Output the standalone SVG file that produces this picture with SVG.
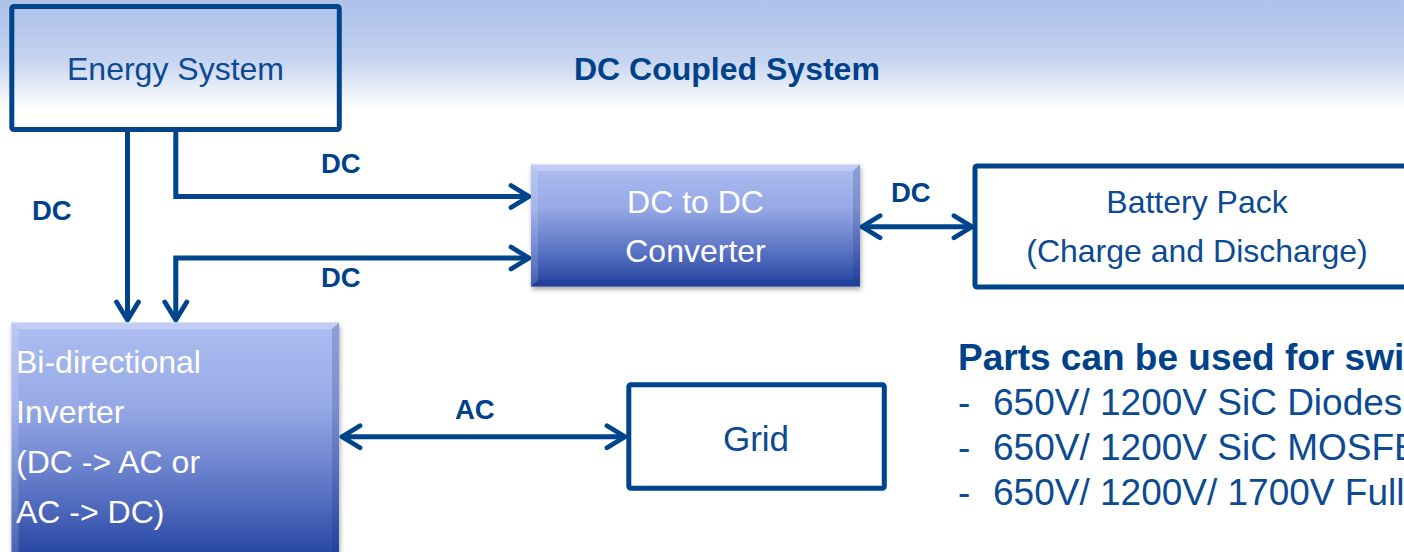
<svg xmlns="http://www.w3.org/2000/svg" width="1404" height="552" viewBox="0 0 1404 552">
<defs>
  <linearGradient id="bg" x1="0" y1="0" x2="0" y2="1">
    <stop offset="0" stop-color="#afc2ea"/>
    <stop offset="0.2" stop-color="#b2c5eb"/>
    <stop offset="0.55" stop-color="#c6d4f0"/>
    <stop offset="0.85" stop-color="#eef2fb"/>
    <stop offset="1" stop-color="#ffffff"/>
  </linearGradient>
  <linearGradient id="boxgrad" x1="0" y1="0" x2="0" y2="1">
    <stop offset="0" stop-color="#adbef1"/>
    <stop offset="0.35" stop-color="#97a9e6"/>
    <stop offset="0.7" stop-color="#5b74c4"/>
    <stop offset="1" stop-color="#22429f"/>
  </linearGradient>
  <filter id="shadow" x="-10%" y="-10%" width="120%" height="130%">
    <feDropShadow dx="1" dy="3" stdDeviation="2.5" flood-color="#000000" flood-opacity="0.35"/>
  </filter>
  <marker id="arr" viewBox="-22 -14 26 28" refX="0" refY="0" markerWidth="26" markerHeight="28" markerUnits="userSpaceOnUse" orient="auto-start-reverse">
    <path d="M-18,-11 L0,0 L-18,11" fill="none" stroke="#00458c" stroke-width="4.8" stroke-linecap="round" stroke-linejoin="round"/>
  </marker>
  <style>
    .box{fill:none;stroke:#00458c;stroke-width:5;stroke-linejoin:round}
    .btxt{font-family:"Liberation Sans",Arial,sans-serif;font-size:32px;fill:#0c4a92}
    .gtxt{font-family:"Liberation Sans",Arial,sans-serif;font-size:35px;fill:#0c4a92}
    .wtxt{font-family:"Liberation Sans",Arial,sans-serif;font-size:32px;fill:#ffffff}
    .lbl{font-family:"Liberation Sans",Arial,sans-serif;font-size:27.5px;font-weight:bold;fill:#00428a}
    .conn{fill:none;stroke:#00458c;stroke-width:5}
    .side{font-family:"Liberation Sans",Arial,sans-serif;font-size:37px;fill:#0c4a92}
  </style>
</defs>

<rect x="0" y="0" width="1404" height="552" fill="#ffffff"/>
<rect x="0" y="0" width="1404" height="110" fill="url(#bg)"/>

<text x="574" y="80" font-family="'Liberation Sans',Arial,sans-serif" font-size="32" font-weight="bold" fill="#00428a">DC Coupled System</text>

<g id="connectors">
  <line class="conn" x1="127.5" y1="131" x2="127.5" y2="320" marker-end="url(#arr)"/>
  <polyline class="conn" points="175.8,131 175.8,196.5 529,196.5" marker-end="url(#arr)"/>
  <polyline class="conn" points="529,258 175.8,258 175.8,320" marker-start="url(#arr)" marker-end="url(#arr)"/>
  <line class="conn" x1="862" y1="226.7" x2="972" y2="226.7" marker-start="url(#arr)" marker-end="url(#arr)"/>
  <line class="conn" x1="342" y1="436.7" x2="625" y2="436.7" marker-start="url(#arr)" marker-end="url(#arr)"/>
  <text class="lbl" x="32" y="220">DC</text>
  <text class="lbl" x="321" y="173">DC</text>
  <text class="lbl" x="321" y="287">DC</text>
  <text class="lbl" x="891" y="202">DC</text>
  <text class="lbl" x="455" y="419">AC</text>
</g>

<g id="energy-system">
  <rect class="box" x="11.8" y="6.5" width="327.5" height="123" rx="2"/>
  <text class="btxt" x="175.5" y="80" text-anchor="middle">Energy System</text>
</g>

<g id="dc-dc-converter">
  <rect x="531" y="164.5" width="329" height="122" fill="url(#boxgrad)" filter="url(#shadow)"/>
  <polygon points="531,164.5 860,164.5 853,171 538,171" fill="#ffffff" opacity="0.25"/>
  <polygon points="531,164.5 538,171 538,280 531,286.5" fill="#ffffff" opacity="0.15"/>
  <polygon points="860,164.5 853,171 853,280 860,286.5" fill="#0a2a7a" opacity="0.2"/>
  <polygon points="531,286.5 538,280 853,280 860,286.5" fill="#0a2a7a" opacity="0.2"/>
  <text class="wtxt" x="695.5" y="213" text-anchor="middle">DC to DC</text>
  <text class="wtxt" x="695.5" y="262" text-anchor="middle">Converter</text>
</g>

<g id="battery-pack">
  <rect class="box" x="975" y="166" width="450" height="121" rx="2"/>
  <text class="btxt" x="1197" y="213" text-anchor="middle">Battery Pack</text>
  <text class="btxt" x="1197" y="262" text-anchor="middle">(Charge and Discharge)</text>
</g>

<g id="bidirectional-inverter">
  <rect x="11.5" y="322.5" width="327.5" height="240" fill="url(#boxgrad)" filter="url(#shadow)"/>
  <polygon points="11.5,322.5 339,322.5 332,329 18.5,329" fill="#ffffff" opacity="0.25"/>
  <polygon points="11.5,322.5 18.5,329 18.5,560 11.5,560" fill="#ffffff" opacity="0.15"/>
  <polygon points="339,322.5 332,329 332,560 339,560" fill="#0a2a7a" opacity="0.2"/>
  <text class="wtxt" x="16" y="373">Bi-directional</text>
  <text class="wtxt" x="16" y="423">Inverter</text>
  <text class="wtxt" x="16" y="473">(DC -&gt; AC or</text>
  <text class="wtxt" x="16" y="523">AC -&gt; DC)</text>
</g>

<g id="grid">
  <rect class="box" x="628.8" y="384.8" width="255.5" height="103.4" rx="2"/>
  <text class="gtxt" x="756" y="451" text-anchor="middle">Grid</text>
</g>

<g id="parts-text">
  <text x="958" y="370" font-family="'Liberation Sans',Arial,sans-serif" font-size="37" font-weight="bold" fill="#00428a">Parts can be used for swi</text>
  <text class="side" x="958" y="415">-</text>
  <text class="side" x="993" y="415">650V/ 1200V SiC Diodes</text>
  <text class="side" x="958" y="460">-</text>
  <text class="side" x="993" y="460">650V/ 1200V SiC MOSFE</text>
  <text class="side" x="958" y="505">-</text>
  <text class="side" x="993" y="505">650V/ 1200V/ 1700V Full</text>
</g>
</svg>
